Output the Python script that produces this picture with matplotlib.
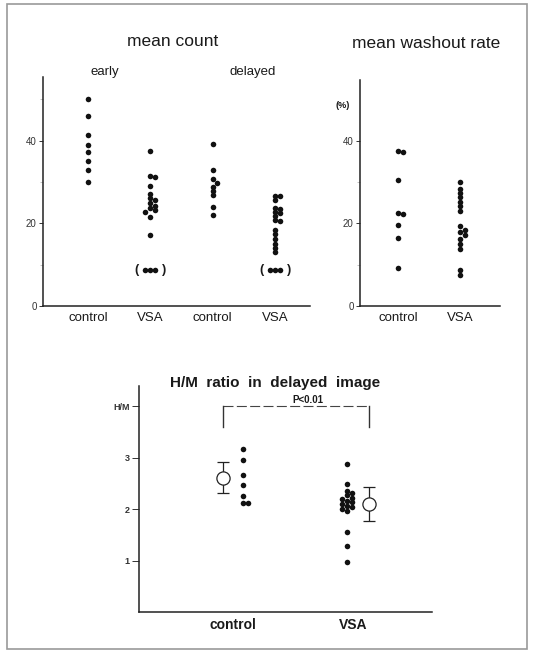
import matplotlib.pyplot as plt
from matplotlib.patches import Rectangle

plt.rcParams['font.family'] = ['Liberation Sans', 'DejaVu Sans']
plt.rcParams['text.color'] = '#1a1a1a'

# mean count, early and delayed images
count_labels = ['control', 'VSA', 'control', 'VSA']
early_control = [50.0, 46.0, 41.3, 39.0, 37.2, 35.0, 32.8, 29.9]
early_vsa = [37.4, 31.5, 31.3, 29.0, 27.1, 26.1, 25.6, 24.9, 24.3, 23.6, 23.2, 22.8, 21.5, 17.2]
delayed_control = [39.2, 33.0, 30.7, 29.8, 28.8, 27.8, 26.8, 24.0, 22.0]
delayed_vsa = [26.7, 26.6, 25.6, 23.8, 23.4, 22.8, 22.4, 21.8, 20.8, 20.6,
               18.4, 17.3, 16.3, 15.1, 14.1, 13.0]
low_count = [8.6, 8.6, 8.6]  # plotted in parentheses

# mean washout rate (%)
washout_labels = ['control', 'VSA']
washout_control = [37.6, 37.2, 30.6, 22.6, 22.2, 19.6, 16.5, 9.2]
washout_vsa = [30.1, 28.3, 27.3, 26.3, 25.2, 24.2, 23.0, 19.3, 18.5, 18.0,
               17.3, 16.1, 15.1, 13.7, 8.6, 7.6]

# H/M ratio in delayed image
hm_labels = ['control', 'VSA']
hm_control = [3.17, 2.96, 2.67, 2.46, 2.26, 2.11, 2.11]
hm_vsa = [2.88, 2.49, 2.36, 2.31, 2.27, 2.22, 2.20, 2.16, 2.13, 2.10, 2.06,
          2.04, 2.00, 1.96, 1.56, 1.28, 0.97]
hm_mean = [2.61, 2.09]
hm_sd = [0.30, 0.33]
p_text = 'P<0.01'

W, H = 534, 654
fig = plt.figure(figsize=(W / 100, H / 100), dpi=100)
fig.patch.set_facecolor('white')


def px_box(left, top, right, bottom):
    return [left / W, 1 - bottom / H, (right - left) / W, (bottom - top) / H]


def swarm(ax, x0, values, d=4.8, gap=4.0):
    # simple beeswarm in pixel space so dots don't overlap
    x_px = ax.transData.transform((1, 0))[0] - ax.transData.transform((0, 0))[0]
    placed = []
    xs = []
    for v in values:
        py = ax.transData.transform((x0, v))[1]
        for k in [0, 1, -1, 2, -2, 3, -3]:
            px = k * d
            if all((px - qx) ** 2 + (py - qy) ** 2 >= gap ** 2 for qx, qy in placed):
                break
        placed.append((px, py))
        xs.append(x0 + px / x_px)
    ax.scatter(xs, values, s=16, color='#111111', linewidths=0, zorder=3)


def style_axes(ax):
    for side in ['top', 'right']:
        ax.spines[side].set_visible(False)
    for side in ['left', 'bottom']:
        ax.spines[side].set_linewidth(1.1)
        ax.spines[side].set_color('#222222')
    ax.tick_params(axis='x', length=0, labelsize=9.5, pad=4, colors='#1a1a1a')
    ax.tick_params(axis='y', length=3, width=0.7, labelsize=7, pad=1.5, colors='#333333')
    ax.tick_params(axis='y', which='minor', length=2, width=0.5, color='#aaaaaa')
    ax.set_facecolor('none')


# ---- mean count ----
ax1 = fig.add_axes(px_box(43, 77, 310, 306))
ax1.set_xlim(-0.72, 3.56)
ax1.set_ylim(0, 55.4)
style_axes(ax1)
ax1.set_yticks([0, 20, 40])
ax1.set_yticks([10, 30, 50], minor=True)
ax1.set_xticks(range(4), count_labels)
for x0, vals in zip(range(4), [early_control, early_vsa, delayed_control, delayed_vsa]):
    swarm(ax1, x0, vals)
for x0 in [1, 3]:
    swarm(ax1, x0, low_count, d=5)
    ax1.annotate('(', (x0, low_count[0]), xytext=(-14, 0), textcoords='offset pixels',
                 ha='center', va='center', fontsize=9, fontweight='bold')
    ax1.annotate(')', (x0, low_count[0]), xytext=(14, 0), textcoords='offset pixels',
                 ha='center', va='center', fontsize=9, fontweight='bold')

# ---- mean washout rate ----
ax2 = fig.add_axes(px_box(360, 80, 500, 306))
ax2.set_xlim(-0.613, 1.645)
ax2.set_ylim(0, 54.7)
style_axes(ax2)
ax2.set_yticks([0, 20, 40])
ax2.set_yticks([10, 30], minor=True)
ax2.set_xticks(range(2), washout_labels)
swarm(ax2, 0, washout_control)
swarm(ax2, 1, washout_vsa)
ax2.text(-0.07, 48.5, '(%)', transform=ax2.get_yaxis_transform(), ha='right',
         va='center', fontsize=6.5, fontweight='bold')

# ---- H/M ratio ----
ax3 = fig.add_axes(px_box(139, 386, 432, 612))
ax3.set_xlim(-0.783, 1.658)
ax3.set_ylim(0, 4.39)
style_axes(ax3)
ax3.set_yticks([1, 2, 3, 4], ['1', '2', '3', 'H/M'])
ax3.tick_params(axis='y', length=5, labelsize=6.5)
for lab in ax3.get_yticklabels():
    lab.set_fontweight('bold')
ax3.set_xticks(range(2), hm_labels)
for lab in ax3.get_xticklabels():
    lab.set_fontweight('bold')
    lab.set_fontsize(10)
swarm(ax3, 0.083, hm_control)
swarm(ax3, 0.95, hm_vsa)
mean_x = [-0.083, 1.133]
ax3.errorbar(mean_x, hm_mean, yerr=hm_sd, fmt='o', ms=9.5, mfc='white', mec='#222222',
             mew=0.9, ecolor='#222222', elinewidth=0.9, capsize=4.5, capthick=0.9, zorder=4)
ax3.plot(mean_x, [4.0, 4.0], color='#444444', lw=0.8, linestyle=(0, (9, 3)))
ax3.plot([mean_x[0]] * 2, [3.6, 4.0], color='#333333', lw=1.0)
ax3.plot([mean_x[1]] * 2, [3.6, 4.0], color='#333333', lw=1.0)
ax3.text(0.625, 4.02, p_text, ha='center', va='bottom', fontsize=7, fontweight='bold')

# ---- titles ----
fig.text(173 / W, 1 - 41 / H, 'mean count', ha='center', va='center', fontsize=12.5)
fig.text(426 / W, 1 - 43 / H, 'mean washout rate', ha='center', va='center', fontsize=12.5)
fig.text(105 / W, 1 - 72 / H, 'early', ha='center', va='center', fontsize=9.5)
fig.text(253 / W, 1 - 72 / H, 'delayed', ha='center', va='center', fontsize=9.5)
fig.text(275 / W, 1 - 383 / H, 'H/M  ratio  in  delayed  image', ha='center', va='center',
         fontsize=11, fontweight='bold')

# outer frame
fig.patches.append(Rectangle((7 / W, 1 - 649 / H), 520 / W, 645 / H, transform=fig.transFigure,
                             fill=False, edgecolor='#999999', lw=1.2))

fig.savefig('out.png', dpi=100, facecolor='white')
